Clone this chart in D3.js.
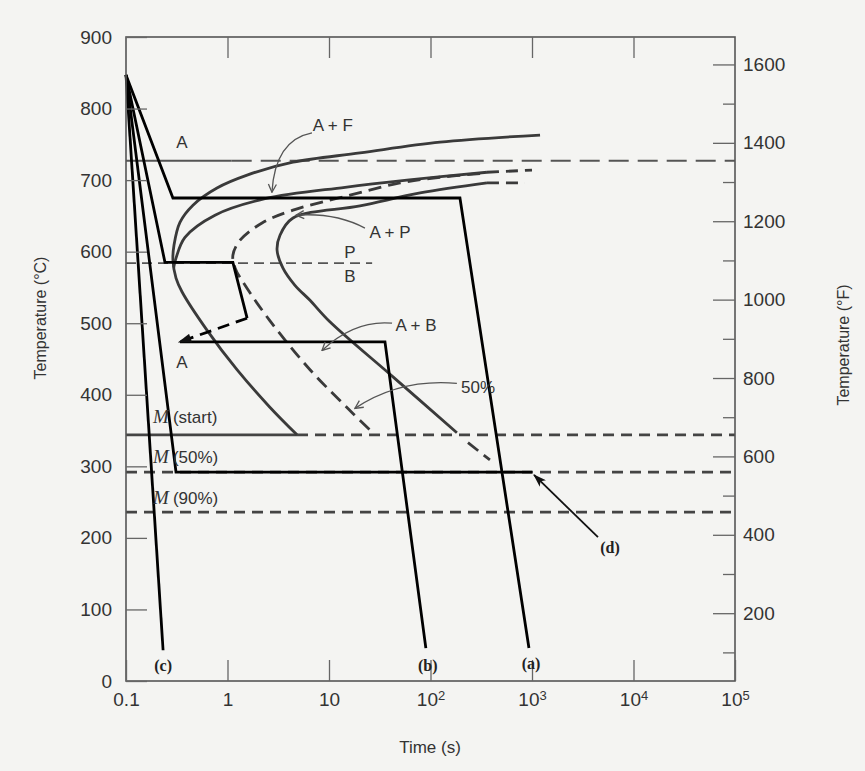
<!DOCTYPE html>
<html>
<head>
<meta charset="utf-8">
<script src="https://cdn.jsdelivr.net/npm/d3@7/dist/d3.min.js"></script>
<style>
  body { margin: 0; background: #f4f4f2; }
  svg { display: block; font-family: "Liberation Sans", Arial, sans-serif; }
  .axis .tick line { stroke: #666; stroke-width: 1.3; }
  .axis .tick text { font-size: 19px; fill: #333; font-family: "Liberation Sans", Arial, sans-serif; }
  .title { font-size: 16px; fill: #333; }
  .region { font-size: 17px; fill: #333; }
  .pathlabel { font-family: "Liberation Serif", "Times New Roman", serif; font-weight: bold; font-size: 16px; fill: #222; }
</style>
</head>
<body>
<div id="container"></div>
<script>
//Axis values
var timeTicks = [0.1, 1, 10, 100, 1000, 10000, 100000];
var timeLabels = ["0.1", "1", "10", "10^2", "10^3", "10^4", "10^5"];
var tempTicksC = [0, 100, 200, 300, 400, 500, 600, 700, 800, 900];
var tempTicksF = [200, 400, 600, 800, 1000, 1200, 1400, 1600];
var tempMinorF = [100, 300, 500, 700, 900, 1100, 1300, 1500];

//Transformation curves, [time (s), temperature (°C)]
var ferriteStart = [[1200,763],[124,753],[20.2,738],[4.42,725],[1.56,707],[0.788,689],[0.457,665],
  [0.34,641],[0.297,609],[0.29,588],[0.311,563],[0.356,544],[0.63,490],[1.24,435],[2.6,383],[4.84,344]];
var pearliteStart = [[360,711],[58.6,700],[14.4,690],[2.34,674],[0.753,651],[0.381,620],[0.311,591],[0.295,578]];
var pearliteStartExt = [[360,711],[1000,714]];
var halfCurve = [[308,709],[124,704],[50,696],[16.1,679],[4.42,658],[2.19,640],[1.33,616],[1.13,595],
  [1.19,577],[1.49,553],[2.6,504],[6.5,435],[17.2,374],[27.1,347]];
var finishCurve = [[360,696],[79,682],[20.2,664],[4.42,647],[3.29,623],[3.08,602],[3.52,577],[4.62,553],
  [6.5,532],[10.2,502],[42.7,425],[182,347]];
var finishTopExt = [[360,696],[853,696]];
var finishLowExt = [[234,333],[385,309]];

//Reference temperatures (°C)
var eutectoid = 727;
var pbBoundary = 584;
var mStart = 344;
var m50 = 292;
var m90 = 236;

//Cooling paths
var pathA = [[0.1,847],[0.29,675],[195,675],[933,46]];
var pathB = [[0.1,847],[0.242,585],[1.13,585],[1.56,507]];
var pathBJump = [[1.56,507],[0.34,474]];
var pathB2 = [[0.34,474],[35.6,474],[90,46]];
var pathC = [[0.1,847],[0.232,43]];
var pathD = [[0.1,847],[0.311,292],[1000,292]];

//Annotations
var regionLabels = [
  {text: "A", t: 0.356, T: 753},
  {text: "A + F", t: 10.9, T: 777},
  {text: "A + P", t: 39.9, T: 627},
  {text: "P", t: 16.1, T: 600},
  {text: "B", t: 16.1, T: 566},
  {text: "A", t: 0.356, T: 446},
  {text: "A + B", t: 72, T: 497},
  {text: "50%", t: 294, T: 411}
];
var mLabels = [{text: "(start)", T: 369}, {text: "(50%)", T: 313}, {text: "(90%)", T: 256}];
var pathLabels = [
  {text: "(c)", t: 0.232, T: 22},
  {text: "(b)", t: 94, T: 22},
  {text: "(a)", t: 977, T: 25},
  {text: "(d)", t: 5860, T: 187}
];
var noteArrows = [
  {from: [6.8,766], ctrl: [2.94,756], to: [2.74,683]},
  {from: [22.6,633], ctrl: [11.5,655], to: [4.73,651]},
  {from: [41.8,500], ctrl: [18,505], to: [8.53,462]},
  {from: [182,416], ctrl: [50,423], to: [18,381]}
];
var dArrow = [[4467,201],[1047,288]];

var width = 865, height = 771;
var plotLeft = 126, plotRight = 735, plotTop = 37, plotBottom = 681;

var x = d3.scaleLog().domain([0.1, 100000]).range([plotLeft, plotRight]);
var y = d3.scaleLinear().domain([0, 900]).range([plotBottom, plotTop]);
//the printed °F scale, as drawn in the figure
var yF = d3.scaleLinear().domain([27, 1670]).range([plotBottom, plotTop]);

var line = d3.line().x(function(d) { return x(d[0]); }).y(function(d) { return y(d[1]); });
var smooth = d3.line().x(function(d) { return x(d[0]); }).y(function(d) { return y(d[1]); })
    .curve(d3.curveCatmullRom.alpha(0.5));

var svg = d3.select("#container").append("svg")
    .attr("width", width)
    .attr("height", height);

//Markers for arrows
var defs = svg.append("defs");
defs.append("marker").attr("id", "open").attr("markerUnits", "userSpaceOnUse")
    .attr("viewBox", "0 0 10 10").attr("refX", 9).attr("refY", 5)
    .attr("markerWidth", 10).attr("markerHeight", 10).attr("orient", "auto")
  .append("path").attr("d", "M1,1 L9,5 L1,9").attr("fill", "none").attr("stroke", "#555").attr("stroke-width", 1.3);
defs.append("marker").attr("id", "solid").attr("markerUnits", "userSpaceOnUse")
    .attr("viewBox", "0 0 12 8").attr("refX", 11).attr("refY", 4)
    .attr("markerWidth", 14).attr("markerHeight", 9).attr("orient", "auto")
  .append("path").attr("d", "M0,0 L12,4 L0,8 L3,4 Z").attr("fill", "#111");
defs.append("marker").attr("id", "head").attr("markerUnits", "userSpaceOnUse")
    .attr("viewBox", "0 0 12 8").attr("refX", 10).attr("refY", 4)
    .attr("markerWidth", 14).attr("markerHeight", 9).attr("orient", "auto")
  .append("path").attr("d", "M0,0 L12,4 L0,8 Z").attr("fill", "#111");

var plot = svg.append("g").attr("class", "plot");

//Horizontal reference lines
function hline(T, t0, t1, dash, w, col) {
  plot.append("path")
      .attr("d", line([[t0, T], [t1, T]]))
      .attr("fill", "none")
      .attr("stroke", col)
      .attr("stroke-width", w)
      .attr("stroke-dasharray", dash);
}
hline(eutectoid, 0.1, 1.1, null, 2, "#555");
hline(eutectoid, 1.1, 100000, "20,9", 2, "#555");
hline(pbBoundary, 0.1, 26.6, "10,6", 1.8, "#555");
hline(mStart, 0.1, 4.84, null, 2.6, "#444");
hline(mStart, 4.84, 100000, "11,7", 2.8, "#444");
hline(m50, 0.1, 100000, "11,7", 2.8, "#444");
hline(m90, 0.1, 100000, "11,7", 2.8, "#444");

//Transformation curves
var curves = [
  {d: ferriteStart, dash: null},
  {d: pearliteStart, dash: null},
  {d: pearliteStartExt, dash: "12,7"},
  {d: halfCurve, dash: "13,7"},
  {d: finishCurve, dash: null},
  {d: finishTopExt, dash: "12,7"},
  {d: finishLowExt, dash: "13,7"}
];
plot.selectAll("path.curve")
    .data(curves)
    .enter()
    .append("path")
    .attr("class", "curve")
    .attr("d", function(c) { return smooth(c.d); })
    .attr("fill", "none")
    .attr("stroke", "#3a3a3a")
    .attr("stroke-width", 2.8)
    .attr("stroke-dasharray", function(c) { return c.dash; });

//Cooling paths
[pathA, pathB, pathB2, pathC, pathD].forEach(function(p) {
  plot.append("path")
      .attr("d", line(p))
      .attr("fill", "none")
      .attr("stroke", "#000")
      .attr("stroke-width", 2.8)
      .attr("stroke-linejoin", "miter");
});
plot.append("path")
    .attr("d", line(pathBJump))
    .attr("fill", "none")
    .attr("stroke", "#000")
    .attr("stroke-width", 2.8)
    .attr("stroke-dasharray", "12,7")
    .attr("marker-end", "url(#head)");

//Frame
svg.append("rect")
    .attr("x", plotLeft).attr("y", plotTop)
    .attr("width", plotRight - plotLeft).attr("height", plotBottom - plotTop)
    .attr("fill", "none").attr("stroke", "#555").attr("stroke-width", 1.6);

//Axes
var yAxis = svg.append("g").attr("class", "axis")
    .attr("transform", "translate(" + plotLeft + ",0)")
    .call(d3.axisLeft(y).tickValues(tempTicksC).tickSizeInner(-21).tickSizeOuter(0).tickPadding(14));
yAxis.select(".domain").remove();

var xAxis = svg.append("g").attr("class", "axis")
    .attr("transform", "translate(0," + plotBottom + ")")
    .call(d3.axisBottom(x).tickValues(timeTicks).tickSizeInner(-21).tickSizeOuter(0).tickPadding(12));
xAxis.select(".domain").remove();
xAxis.selectAll(".tick text").each(function(d) {
  var parts = timeLabels[timeTicks.indexOf(d)].split("^");
  var t = d3.select(this).text(parts[0]);
  if (parts[1]) t.append("tspan").attr("dy", "-0.5em").style("font-size", "13px").text(parts[1]);
});

var xTop = svg.append("g").attr("class", "axis")
    .attr("transform", "translate(0," + plotTop + ")")
    .call(d3.axisTop(x).tickValues([1, 10, 100, 1000, 10000]).tickSizeInner(-21).tickSizeOuter(0).tickFormat(""));
xTop.select(".domain").remove();

var yRight = svg.append("g").attr("class", "axis")
    .attr("transform", "translate(" + plotRight + ",0)")
    .call(d3.axisRight(yF).tickValues(tempTicksF).tickSizeInner(-22).tickSizeOuter(0).tickPadding(8)
      .tickFormat(d3.format("d")));
yRight.select(".domain").remove();
var yRightMinor = svg.append("g").attr("class", "axis")
    .attr("transform", "translate(" + plotRight + ",0)")
    .call(d3.axisRight(yF).tickValues(tempMinorF).tickSizeInner(-12).tickSizeOuter(0).tickFormat(""));
yRightMinor.select(".domain").remove();

//Axis titles
svg.append("text").attr("class", "title")
    .attr("transform", "translate(46,318) rotate(-90)")
    .attr("text-anchor", "middle")
    .text("Temperature (°C)");
svg.append("text").attr("class", "title")
    .attr("transform", "translate(849,345) rotate(-90)")
    .attr("text-anchor", "middle")
    .text("Temperature (°F)");
svg.append("text").attr("class", "title")
    .attr("x", 430).attr("y", 753)
    .attr("text-anchor", "middle")
    .style("font-size", "17px")
    .text("Time (s)");

//Region labels
svg.selectAll("text.region")
    .data(regionLabels)
    .enter()
    .append("text")
    .attr("class", "region")
    .attr("x", function(d) { return x(d.t); })
    .attr("y", function(d) { return y(d.T); })
    .attr("text-anchor", "middle")
    .attr("dy", "0.35em")
    .text(function(d) { return d.text; });

//Martensite labels
var ml = svg.selectAll("text.mlabel")
    .data(mLabels)
    .enter()
    .append("text")
    .attr("class", "region mlabel")
    .attr("x", x(0.185))
    .attr("y", function(d) { return y(d.T); })
    .attr("dy", "0.35em");
ml.append("tspan")
    .style("font-family", "'Liberation Serif', 'Times New Roman', serif")
    .style("font-style", "italic")
    .style("font-size", "19px")
    .text("M");
ml.append("tspan").attr("dx", 4).text(function(d) { return d.text; });

//Path labels
svg.selectAll("text.pathlabel")
    .data(pathLabels)
    .enter()
    .append("text")
    .attr("class", "pathlabel")
    .attr("x", function(d) { return x(d.t); })
    .attr("y", function(d) { return y(d.T); })
    .attr("text-anchor", "middle")
    .attr("dy", "0.35em")
    .text(function(d) { return d.text; });

//Curved pointer arrows
svg.selectAll("path.note")
    .data(noteArrows)
    .enter()
    .append("path")
    .attr("class", "note")
    .attr("d", function(a) {
      return "M" + x(a.from[0]) + "," + y(a.from[1]) +
        " Q" + x(a.ctrl[0]) + "," + y(a.ctrl[1]) +
        " " + x(a.to[0]) + "," + y(a.to[1]);
    })
    .attr("fill", "none")
    .attr("stroke", "#555")
    .attr("stroke-width", 1.3)
    .attr("marker-end", "url(#open)");

svg.append("path")
    .attr("d", line(dArrow))
    .attr("fill", "none")
    .attr("stroke", "#111")
    .attr("stroke-width", 1.8)
    .attr("marker-end", "url(#solid)");
</script>
</body>
</html>
